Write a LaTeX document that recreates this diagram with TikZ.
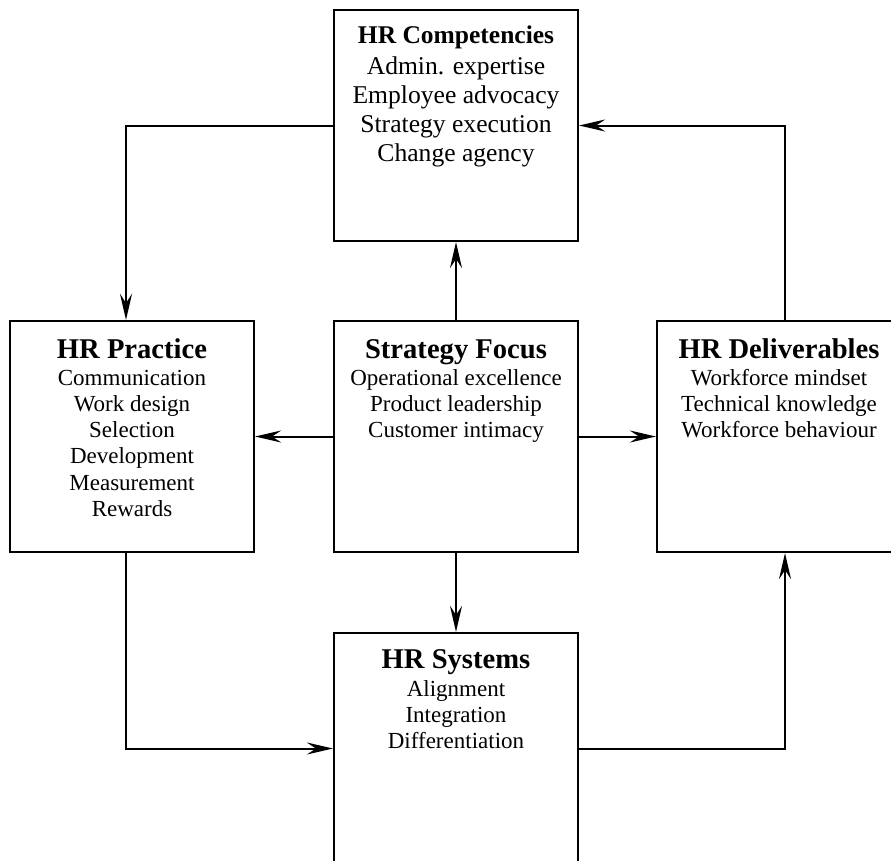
\documentclass[tikz,border=0pt]{standalone}
\usepackage{fontspec}
\setmainfont{Liberation Serif}
\usetikzlibrary{arrows.meta}

\begin{document}
\begin{tikzpicture}[x=1pt, y=-1pt,
    box/.style={draw, line width=2.2pt, minimum width=244pt, minimum height=231pt, inner sep=0pt},
    head/.style={anchor=base, inner sep=0pt, font=\bfseries\fontsize{28.6}{30}\selectfont},
    items/.style={anchor=base, inner sep=0pt, align=center, font=\fontsize{23}{26.3}\selectfont},
    arr/.style={line width=2pt, -{Stealth[length=26pt, width=12pt, inset=9pt]}}]
    \useasboundingbox (0,0) rectangle (891,860);

    % boxes
    \node[box] (comp) at (456,125.5) {};
    \node[box] (prac) at (132,436.5) {};
    \node[box] (focus) at (456,436.5) {};
    \node[box] (deli) at (779,436.5) {};
    \node[box] (sys) at (456,748.5) {};

    % texts (base = last line)
    \node[head, font=\bfseries\fontsize{25.5}{28}\selectfont] (compHead) at (456,43.5) {HR Competencies};
    \node[items, font=\fontsize{25.6}{29}\selectfont] (compItems) at (456,161) {Admin. expertise\\Employee advocacy\\Strategy execution\\Change agency};

    \node[head] (pracHead) at (132,358.3) {HR Practice};
    \node[items] (pracItems) at (132,516.5) {Communication\\Work design\\Selection\\Development\\Measurement\\Rewards};

    \node[head] (focusHead) at (456,358.3) {Strategy Focus};
    \node[items] (focusItems) at (456,437.6) {Operational excellence\\Product leadership\\Customer intimacy};

    \node[head] (deliHead) at (779,358.3) {HR Deliverables};
    \node[items] (deliItems) at (779,437.6) {Workforce mindset\\Technical knowledge\\Workforce behaviour};

    \node[head] (sysHead) at (456,668.3) {HR Systems};
    \node[items] (sysItems) at (456,748.6) {Alignment\\Integration\\Differentiation};

    % arrows
    \draw[arr] (comp.west) -| ([xshift=-6pt]prac.north);
    \draw[arr] ([xshift=6pt]deli.north) |- (comp.east);
    \draw[arr] (focus.north) -- (comp.south);
    \draw[arr] (focus.west) -- (prac.east);
    \draw[arr] (focus.east) -- (deli.west);
    \draw[arr] (focus.south) -- (sys.north);
    \draw[arr] ([xshift=-6pt]prac.south) |- (sys.west);
    \draw[arr] (sys.east) -| ([xshift=6pt]deli.south);
\end{tikzpicture}
\end{document}
